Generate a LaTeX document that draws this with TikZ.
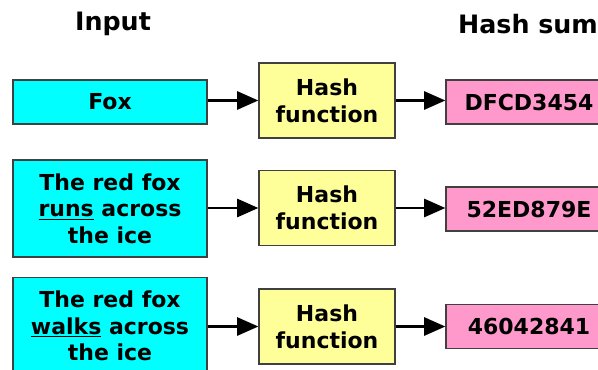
\documentclass[tikz,border=0pt]{standalone}
\usepackage{fontspec}
\setmainfont{DejaVu Sans}
\usetikzlibrary{arrows.meta}
\definecolor{inbox}{HTML}{00FFFF}
\definecolor{hashbox}{HTML}{FFFF99}
\definecolor{sumbox}{HTML}{FF99CC}
\definecolor{edge}{HTML}{404040}
\begin{document}
\begin{tikzpicture}[x=0.75pt,y=-0.75pt,
  every node/.style={font=\fontsize{16.5}{20}\selectfont\bfseries, align=center, inner sep=0pt},
  title/.style={font=\fontsize{19}{22}\selectfont\bfseries},
  inputbox/.style={draw=edge, line width=0.9pt, fill=inbox, minimum width=145.5pt},
  hashfn/.style={draw=edge, line width=0.9pt, fill=hashbox, minimum width=102pt, minimum height=56.25pt},
  sumbx/.style={draw=edge, line width=0.9pt, fill=sumbox, minimum width=124.5pt, minimum height=33pt},
  flow/.style={line width=2.2pt, -{Triangle[length=16pt,width=13.5pt]}}
]
\useasboundingbox (0,0) rectangle (598,370);
\clip (0,0) rectangle (598,370);
\node[title] (tin) at (113,24) {Input};
\node[title] (tsum) at (528,24) {Hash sum};

\node[inputbox, minimum height=33pt] (in1) at (110,102) {Fox};
\node[inputbox, minimum height=72.75pt] (in2) at (110,208.5) {The red fox\\\underline{runs} across\\the ice};
\node[inputbox, minimum height=72.75pt] (in3) at (110,326) {The red fox\\\underline{walks} across\\the ice};

\node[hashfn] (h1) at (327,100.5) {Hash\\function};
\node[hashfn] (h2) at (327,208) {Hash\\function};
\node[hashfn] (h3) at (327,326.5) {Hash\\function};

\node[sumbx] (s1) at (529,102) {DFCD3454};
\node[sumbx] (s2) at (529,209) {52ED879E};
\node[sumbx] (s3) at (529,326.5) {46042841};

\draw[flow] (in1.east |- h1) -- (h1.west);
\draw[flow] (in2.east |- h2) -- (h2.west);
\draw[flow] (in3.east |- h3) -- (h3.west);
\draw[flow] (h1.east) -- (s1.west |- h1);
\draw[flow] (h2.east) -- (s2.west |- h2);
\draw[flow] (h3.east) -- (s3.west |- h3);
\end{tikzpicture}
\end{document}
